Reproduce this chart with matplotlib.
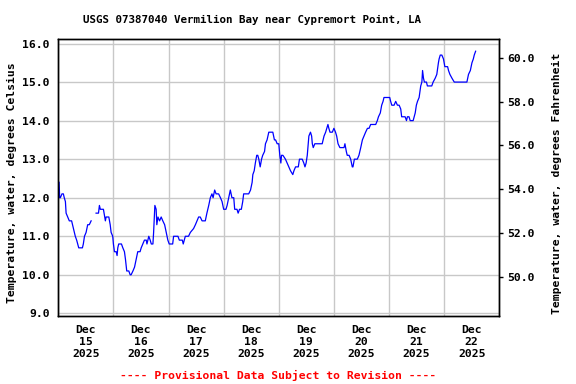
import numpy as np
import matplotlib
matplotlib.use("Agg")
import matplotlib.pyplot as plt
import matplotlib.dates as mdates

# hours after 2025-12-15 00:00 and water temperature (deg C)
hours = [0.35, 0.6, 0.9, 1.6, 2.2, 2.6, 3.1, 3.4, 4.1, 4.8, 5.8, 6.6, 7.4, 8.0, 8.9,
         10.5, 10.9, 11.4, 12.1, 12.8, 13.5, 14.3, 15.0,
         16.45, 17.5, 17.9, 18.3, 19.65, 20.2, 20.5, 20.8, 22.0, 22.6, 23.0, 23.7,
         24.0, 24.45, 25.2, 25.6, 25.9, 26.3, 27.5, 28.1, 28.8, 29.25, 29.8, 30.7,
         31.3, 31.7, 32.5, 33.2, 33.9, 34.6, 35.6, 36.1, 36.8, 37.5, 38.3, 38.6,
         39.4, 40.0, 40.5, 41.2, 41.5, 41.8, 42.05, 42.6, 42.9, 43.4, 44.1, 44.8,
         45.5, 46.3, 47.0, 47.7, 48.3, 49.8, 50.2, 52.1, 52.7, 54.0, 54.4, 55.3,
         56.7, 57.5, 58.9, 59.7, 60.4, 61.1, 61.8, 62.6, 64.0, 64.7, 65.5, 66.2,
         66.9, 67.4, 68.1, 68.7, 69.8, 70.6, 71.3, 72.0, 73.0, 73.5, 74.2, 74.9,
         75.6, 76.4, 76.8, 77.8, 78.3, 78.9, 79.7, 80.3, 80.7, 81.5, 82.9, 83.7,
         84.4, 84.7, 85.3, 85.8, 86.4, 86.85, 87.3, 87.9, 88.5, 89.0, 89.8, 90.2,
         90.9, 91.65, 92.4, 93.4, 94.1, 94.6, 95.3, 96.0, 96.45, 96.9, 97.2, 97.8,
         98.9, 99.65, 100.4, 101.1, 102.1, 102.6, 103.3, 104.5, 105.0, 106.2, 106.9,
         107.4, 107.9, 108.4, 108.8, 109.1, 109.8, 110.3, 110.6, 111.0, 111.7,
         114.9, 115.7, 116.4, 117.4, 117.8, 118.3, 119.3, 120.0, 120.7, 121.2,
         121.8, 122.6, 124.4, 124.8, 125.4, 125.8, 126.6, 127.3, 128.0, 128.3,
         128.9, 130.2, 130.9, 131.7, 132.4, 133.1, 133.8, 134.6, 135.3, 136.0,
         138.2, 138.9, 139.4, 140.2, 140.8, 141.4, 141.8, 142.6, 144.3, 144.7,
         145.2, 146.2, 146.9, 147.65, 148.4, 149.1, 149.5, 151.0, 151.6, 152.0,
         152.7, 153.2, 154.5, 155.4, 155.9, 156.4, 157.1, 157.8, 158.3, 158.6,
         159.0, 159.4, 160.3, 160.7, 162.6, 163.2, 164.1, 164.8, 165.5, 165.8,
         166.3, 167.0, 167.7, 168.3, 169.5, 169.9, 170.5, 171.4, 172.4, 177.9,
         178.6, 179.4, 180.1, 180.7, 181.1, 181.7]
temps = [12.4, 12.0, 12.0, 12.1, 12.1, 12.0, 11.9, 11.6, 11.5, 11.4, 11.4, 11.2, 11.0, 10.9, 10.7,
         10.7, 10.8, 11.0, 11.1, 11.3, 11.3, 11.4, np.nan,
         11.6, 11.6, 11.8, 11.7, 11.7, 11.5, 11.4, 11.5, 11.5, 11.3, 11.1, 11.0,
         10.8, 10.6, 10.6, 10.5, 10.7, 10.8, 10.8, 10.7, 10.6, 10.4, 10.1, 10.1,
         10.0, 10.0, 10.1, 10.2, 10.4, 10.6, 10.6, 10.7, 10.8, 10.9, 10.9, 10.8,
         11.0, 10.9, 10.8, 10.8, 11.1, 11.5, 11.8, 11.7, 11.3, 11.5, 11.4, 11.5,
         11.4, 11.3, 11.1, 10.9, 10.8, 10.8, 11.0, 11.0, 10.9, 10.9, 10.8, 11.0,
         11.0, 11.1, 11.2, 11.3, 11.4, 11.5, 11.5, 11.4, 11.4, 11.6, 11.8, 12.0,
         12.1, 12.0, 12.2, 12.1, 12.1, 12.0, 11.9, 11.7, 11.7, 11.8, 12.0, 12.2,
         12.0, 12.0, 11.7, 11.7, 11.6, 11.7, 11.7, 11.9, 12.1, 12.1, 12.1, 12.2,
         12.4, 12.6, 12.7, 12.9, 13.1, 13.1, 13.0, 12.8, 13.0, 13.1, 13.2, 13.4,
         13.5, 13.7, 13.7, 13.7, 13.5, 13.5, 13.4, 13.4, 13.1, 12.9, 13.1, 13.1,
         13.0, 12.9, 12.8, 12.7, 12.6, 12.7, 12.8, 12.8, 13.0, 13.0, 12.9,
         12.8, 12.9, 13.1, 13.4, 13.6, 13.7, 13.6, 13.4, 13.3, 13.4,
         13.4, 13.6, 13.7, 13.9, 13.8, 13.7, 13.7, 13.8, 13.7, 13.6,
         13.4, 13.3, 13.3, 13.4, 13.2, 13.1, 13.1, 13.0, 12.8, 12.8,
         13.0, 13.0, 13.1, 13.3, 13.5, 13.6, 13.7, 13.8, 13.8, 13.9,
         13.9, 14.0, 14.1, 14.2, 14.4, 14.5, 14.6, 14.6, 14.6, 14.5,
         14.4, 14.4, 14.5, 14.4, 14.4, 14.3, 14.1, 14.1, 14.0, 14.1,
         14.1, 14.0, 14.0, 14.2, 14.4, 14.5, 14.6, 14.9, 15.0, 15.3,
         15.1, 15.0, 15.0, 14.9, 14.9, 15.0, 15.1, 15.2, 15.5, 15.6,
         15.7, 15.7, 15.6, 15.4, 15.4, 15.3, 15.2, 15.1, 15.0, 15.0,
         15.2, 15.3, 15.5, 15.6, 15.7, 15.8]

celsius_ticks = [9.0, 10.0, 11.0, 12.0, 13.0, 14.0, 15.0, 16.0]
fahrenheit_ticks = [50.0, 52.0, 54.0, 56.0, 58.0, 60.0]

start = np.datetime64("2025-12-15T00:00")
times = start + (np.array(hours) * 60).astype("timedelta64[m]")

plt.rcParams["font.family"] = "DejaVu Sans Mono"
plt.rcParams["font.weight"] = "bold"
fs = 8.2

fig = plt.figure(figsize=(5.76, 3.84), dpi=100)
ax = fig.add_axes([0.1012, 0.1779, 0.7656, 0.7198])

ax.plot(times, temps, color="#0000ff", lw=0.9)

ax.set_xlim(start, np.datetime64("2025-12-23T00:00"))
ax.set_ylim(8.94, 16.11)
ax.set_yticks(celsius_ticks)
ax.yaxis.set_major_formatter(matplotlib.ticker.FormatStrFormatter("%.1f"))

ax.xaxis.set_major_locator(mdates.HourLocator(byhour=12))
ax.xaxis.set_major_formatter(mdates.DateFormatter("%b\n%d\n%Y"))
ax.xaxis.set_minor_locator(mdates.DayLocator())

ax.grid(True, which="minor", axis="x", color="#c8c8c8", lw=1)
ax.grid(True, which="major", axis="y", color="#c8c8c8", lw=1)
ax.set_axisbelow(True)
ax.tick_params(axis="both", which="both", length=0, labelsize=fs)
ax.tick_params(axis="y", pad=6)
ax.tick_params(axis="x", pad=7)
for s in ax.spines.values():
    s.set_linewidth(1.0)

ax2 = ax.twinx()
ax2.set_ylim(48.24, 60.84)
ax2.set_yticks(fahrenheit_ticks)
ax2.yaxis.set_major_formatter(matplotlib.ticker.FormatStrFormatter("%.1f"))
ax2.tick_params(axis="y", length=3, width=1, pad=3, labelsize=fs)
for s in ax2.spines.values():
    s.set_linewidth(1.0)

fig.text(252 / 576, 1 - 20 / 384, "USGS 07387040 Vermilion Bay near Cypremort Point, LA",
         ha="center", va="center", fontsize=7.8, fontweight="bold")
fig.text(12 / 576, 1 - 183 / 384, "Temperature, water, degrees Celsius",
         rotation=90, ha="center", va="center", fontsize=fs, fontweight="bold")
fig.text(557 / 576, 1 - 183 / 384, "Temperature, water, degrees Fahrenheit",
         rotation=90, ha="center", va="center", fontsize=fs, fontweight="bold")
fig.text(278 / 576, 1 - 375 / 384, "---- Provisional Data Subject to Revision ----",
         color="red", ha="center", va="center", fontsize=fs, fontweight="bold")

fig.savefig("out.png", dpi=100)
